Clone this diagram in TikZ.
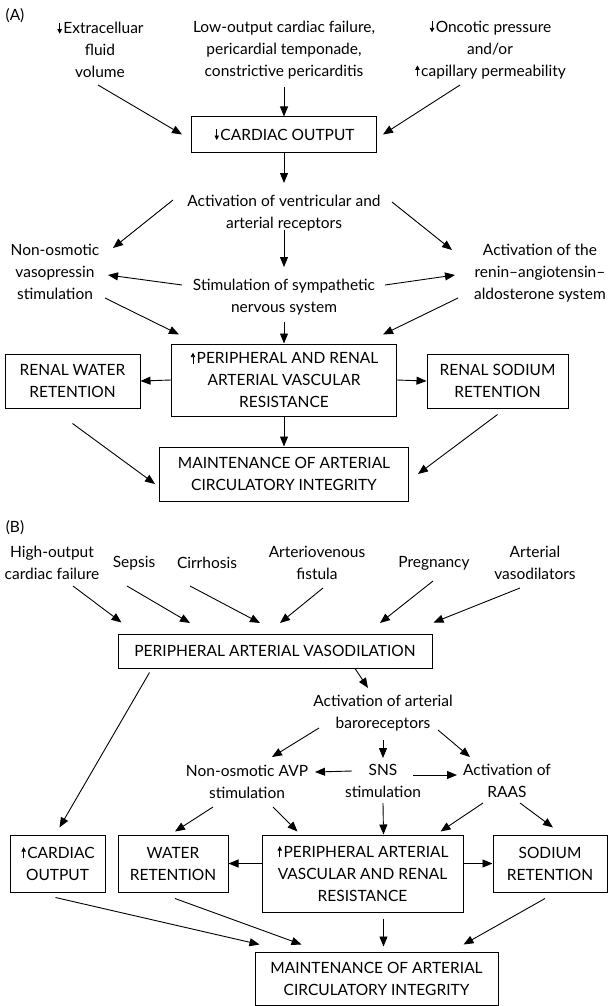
\documentclass[tikz,border=0pt]{standalone}
\usepackage{fontspec}
\setmainfont{Lato}
\usetikzlibrary{arrows.meta}
\newcommand{\dnarr}{\kern1pt\tikz[baseline=0pt]\draw[-{Triangle[length=4.5pt,width=4.5pt]}, line width=0.8pt] (0pt,11pt) -- (0pt,0pt);\kern1.5pt}
\newcommand{\uparr}{\kern1pt\tikz[baseline=0pt]\draw[-{Triangle[length=4.5pt,width=4.5pt]}, line width=0.8pt] (0pt,0pt) -- (0pt,11pt);\kern1.5pt}

\begin{document}
\begin{tikzpicture}[x=1pt, y=-1pt,
    every node/.style={font=\fontsize{15.5}{22}\selectfont},
    txt/.style={align=center, inner sep=0pt},
    box/.style={draw, line width=1pt, align=center, inner sep=2pt},
    arr/.style={-{Triangle[length=10pt,width=8pt]}, line width=0.9pt}]
    \useasboundingbox (0,0) rectangle (610,1006);

    % (A) 心拍出量低下
    \node[txt] (lblA) at (15,16) {(A)};
    \node[txt] (ecf) at (100,50) {\dnarr Extracelluar\\fluid\\volume};
    \node[txt] (lowout) at (284,50) {Low-output cardiac failure,\\pericardial temponade,\\constrictive pericarditis};
    \node[txt] (onc) at (490,50) {\dnarr Oncotic pressure\\and/or\\\uparr capillary permeability};
    \node[box, minimum width=185, minimum height=35] (co) at (284,134.5) {\dnarr CARDIAC OUTPUT};
    \node[txt] (actvr) at (284,213) {Activation of ventricular and\\arterial receptors};
    \node[txt] (avp) at (55,272) {Non-osmotic\\vasopressin\\stimulation};
    \node[txt] (sns) at (284,297) {Stimulation of sympathetic\\nervous system};
    \node[txt] (raas) at (540,273) {Activation of the\\renin–angiotensin–\\aldosterone system};
    \node[box, minimum width=225, minimum height=72] (prr) at (284,380) {\uparr PERIPHERAL AND RENAL\\ARTERIAL VASCULAR\\RESISTANCE};
    \node[box, minimum width=135, minimum height=54] (rwr) at (72.5,381) {RENAL WATER\\RETENTION};
    \node[box, minimum width=141, minimum height=54] (rsr) at (497.5,381) {RENAL SODIUM\\RETENTION};
    \node[box, minimum width=249, minimum height=54] (mntA) at (284,474) {MAINTENANCE OF ARTERIAL\\CIRCULATORY INTEGRITY};

    \draw[arr] ([shift={(-2,35)}]ecf.center) -- ([xshift=-9pt]co.west);
    \draw[arr] ([yshift=-37pt]lowout.center) -- (co.north);
    \draw[arr] ([shift={(-30,35)}]onc.center) -- ([xshift=6pt]co.east);
    \draw[arr] (co.south) -- ([yshift=30pt]actvr.center);
    \draw[arr] ([shift={(-111,-13)}]actvr.center) -- ([shift={(58,-24)}]avp.center);
    \draw[arr] ([shift={(108,-11)}]actvr.center) -- ([shift={(-88,-23)}]raas.center);
    \draw[arr] ([yshift=-17pt]actvr.center) -- ([yshift=30pt]sns.center);
    \draw[arr] ([shift={(-102,-12)}]sns.center) -- ([shift={(53,3)}]avp.center);
    \draw[arr] ([shift={(101,-12)}]sns.center) -- ([shift={(-85,2)}]raas.center);
    \draw[arr] ([shift={(50,26)}]avp.center) -- ([shift={(8,-9)}]prr.north west);
    \draw[arr] ([yshift=-25pt]sns.center) -- (prr.north);
    \draw[arr] ([shift={(-82,25)}]raas.center) -- ([shift={(-14,-9)}]prr.north east);
    \draw[arr] (prr.west) -- (rwr.east);
    \draw[arr] (prr.east) -- (rsr.west);
    \draw[arr] (prr.south) -- (mntA.north);
    \draw[arr] ([yshift=-15pt]rwr.south) -- ([shift={(-4,10)}]mntA.west);
    \draw[arr] ([yshift=-6pt]rsr.south) -- ([xshift=9pt]mntA.east);

    % (B) 末梢動脈拡張
    \node[txt] (lblB) at (15,528) {(B)};
    \foreach \nm/\px/\txt in {hocf/52/{High-output\\cardiac failure}, sep/134/Sepsis, cir/207/Cirrhosis,
        avf/317/{Arteriovenous\\fistula}, preg/434/Pregnancy, avd/535/{Arterial\\vasodilators}}
        \node[txt] (\nm) at (\px,563) {\txt};
    \node[box, minimum width=314, minimum height=34] (pav) at (275,651) {PERIPHERAL ARTERIAL VASODILATION};
    \node[txt] (actbr) at (383,713) {Activation of arterial\\baroreceptors};
    \node[txt] (avpB) at (247,782) {Non-osmotic AVP\\stimulation};
    \node[txt] (snsB) at (383,781) {SNS\\stimulation};
    \node[txt] (raasB) at (507,781) {Activation of\\RAAS};
    \node[box, minimum width=95, minimum height=57] (coB) at (57.5,863.5) {\uparr CARDIAC\\OUTPUT};
    \node[box, minimum width=110, minimum height=57] (wr) at (173,863.5) {WATER\\RETENTION};
    \node[box, minimum width=201, minimum height=77] (prB) at (362.5,873.5) {\uparr PERIPHERAL ARTERIAL\\VASCULAR AND RENAL\\RESISTANCE};
    \node[box, minimum width=114, minimum height=57] (sr) at (550,863.5) {SODIUM\\RETENTION};
    \node[box, minimum width=243, minimum height=53] (mntB) at (376.5,978.5) {MAINTENANCE OF ARTERIAL\\CIRCULATORY INTEGRITY};

    \draw[arr] ([shift={(21,23)}]hocf.center) -- ([shift={(4,-11)}]pav.north west);
    \draw[arr] ([shift={(-7,23)}]sep.center) -- ([shift={(-85,-28)}]pav.center);
    \draw[arr] ([shift={(-17,23)}]cir.center) -- ([shift={(-15,-28)}]pav.center);
    \draw[arr] ([shift={(6,25)}]avf.center) -- ([shift={(5,-28)}]pav.center);
    \draw[arr] ([shift={(-1,18)}]preg.center) -- ([shift={(105,-28)}]pav.center);
    \draw[arr] ([shift={(-15,25)}]avd.center) -- ([shift={(1,-11)}]pav.north east);
    \draw[arr] ([xshift=80pt]pav.south) -- ([shift={(-15,-25)}]actbr.center);
    \draw[arr] ([shift={(32,4)}]pav.south west) -- ([shift={(2,-7)}]coB.north);
    \draw[arr] ([shift={(-64,15)}]actbr.center) -- ([shift={(25,-25)}]avpB.center);
    \draw[arr] ([yshift=-27pt]actbr.center) -- ([yshift=23pt]snsB.center);
    \draw[arr] ([shift={(55,17)}]actbr.center) -- ([shift={(-37,-24)}]raasB.center);
    \draw[arr] ([shift={(-31,-10)}]snsB.center) -- ([shift={(68,-10)}]avpB.center);
    \draw[arr] ([shift={(30,-6)}]snsB.center) -- ([shift={(-50,-6)}]raasB.center);
    \draw[arr] ([shift={(-34,25)}]avpB.center) -- ([shift={(2,-3)}]wr.north);
    \draw[arr] ([shift={(26,25)}]avpB.center) -- ([shift={(36,-3)}]prB.north west);
    \draw[arr] ([yshift=-22pt]snsB.center) -- ([xshift=21pt]prB.north);
    \draw[arr] ([shift={(-24,22)}]raasB.center) -- ([shift={(-23,-3)}]prB.north east);
    \draw[arr] ([shift={(13,22)}]raasB.center) -- ([shift={(3,-7)}]sr.north);
    \draw[arr] ([yshift=10pt]prB.west) -- (wr.east);
    \draw[arr] ([yshift=10pt]prB.east) -- (sr.west);
    \draw[arr] ([shift={(-2,5)}]coB.south) -- ([shift={(5,-7)}]mntB.north west);
    \draw[arr] ([shift={(2,6)}]wr.south) -- ([shift={(47,-7)}]mntB.north west);
    \draw[arr] ([shift={(21,6)}]prB.south) -- ([shift={(7,-5)}]mntB.north);
    \draw[arr] ([shift={(-5,6)}]sr.south) -- ([shift={(-35,-7)}]mntB.north east);
\end{tikzpicture}
\end{document}
